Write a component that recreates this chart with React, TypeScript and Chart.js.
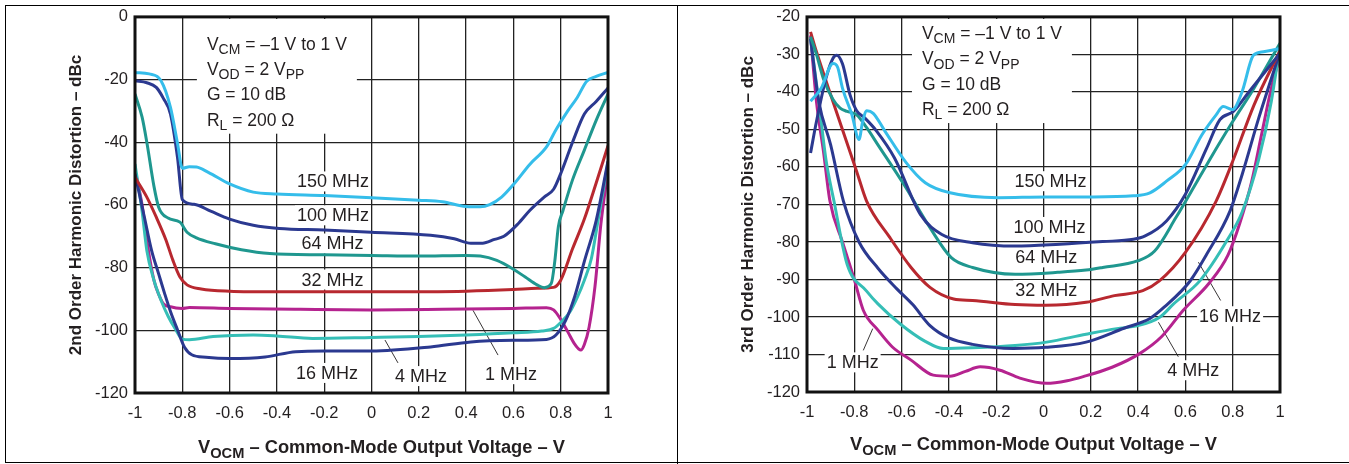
import React, { useEffect, useRef } from "react";
import { Chart, registerables } from "chart.js";
Chart.register(...registerables);

// ---------- colours ----------
const C150 = "#35BDEA";
const C100 = "#2B3990";
const C64 = "#1F978F";
const C32 = "#B8282F";
const C16 = "#2B3990";
const C4 = "#35BEB6";
const C1 = "#B5238F";
const INK = "#231F20";
const FONT = "'Liberation Sans', Arial, Helvetica, sans-serif";

// ---------- 2nd order harmonic distortion (left) ----------
const h2_150_x = [-1, -0.94, -0.89, -0.85, -0.82, -0.8, -0.77, -0.74, -0.69, -0.6, -0.5, -0.4, -0.2, 0, 0.2, 0.3, 0.4, 0.46, 0.5, 0.55, 0.6, 0.67, 0.74, 0.78, 0.83, 0.87, 0.91, 0.95, 1];
const h2_150_y = [-17.7, -18.2, -20.4, -28.9, -40.5, -48.3, -47.8, -47.9, -49.6, -53.3, -55.9, -56.5, -57, -57.7, -58.5, -59, -60.5, -60.6, -59.9, -57.5, -53.5, -47, -41.5, -36, -30, -25.7, -20.5, -19, -17.7];

const h2_100_x = [-1, -0.95, -0.91, -0.88, -0.85, -0.82, -0.8, -0.75, -0.68, -0.6, -0.5, -0.39, -0.2, 0, 0.25, 0.35, 0.42, 0.47, 0.52, 0.56, 0.62, 0.67, 0.73, 0.77, 0.8, 0.85, 0.9, 0.95, 1];
const h2_100_y = [-20.4, -21, -22.5, -26, -31, -45, -58.3, -59.8, -62, -64.5, -66.5, -67.5, -68, -68.7, -69.7, -70.8, -72.2, -72.2, -71, -70, -66, -61.7, -57.5, -55, -50, -40, -31, -27, -22.7];

const h2_64_x = [-1, -0.97, -0.95, -0.92, -0.9, -0.86, -0.81, -0.78, -0.74, -0.66, -0.55, -0.43, -0.2, 0, 0.2, 0.4, 0.46, 0.53, 0.6, 0.65, 0.7, 0.73, 0.76, 0.775, 0.79, 0.81, 0.85, 0.9, 0.95, 1];
const h2_64_y = [-24.6, -32, -40, -54, -60.7, -64.2, -65.5, -68.7, -70.5, -72.4, -74.3, -75.5, -75.9, -76.1, -76.3, -76.1, -76.3, -77.7, -80.5, -83, -85.5, -86.4, -85.1, -78, -67, -61.7, -52, -42.5, -33, -24.6];

const h2_32_x = [-1, -0.95, -0.91, -0.87, -0.84, -0.81, -0.78, -0.72, -0.6, -0.4, 0, 0.4, 0.6, 0.7, 0.77, 0.8, 0.85, 0.9, 0.95, 1];
const h2_32_y = [-51.2, -57.5, -63.9, -71, -77.6, -83, -85.5, -86.8, -87.5, -87.7, -87.7, -87.5, -87, -86.6, -86.3, -84, -74, -64.5, -53, -41.1];

const h2_16_x = [-1, -0.96, -0.93, -0.9, -0.875, -0.85, -0.82, -0.79, -0.76, -0.7, -0.6, -0.45, -0.32, -0.2, 0, 0.25, 0.42, 0.6, 0.74, 0.78, 0.82, 0.86, 0.9, 0.95, 1];
const h2_16_y = [-50.1, -64, -74.5, -82, -88.2, -94, -99.9, -105.5, -107.8, -108.6, -109, -108.5, -106.8, -106.6, -106.6, -105.3, -103.7, -103.2, -102.9, -101.5, -97, -89, -78, -65, -46];

const h2_4_x = [-1, -0.97, -0.95, -0.92, -0.89, -0.86, -0.83, -0.8, -0.77, -0.67, -0.5, -0.4, -0.25, 0, 0.2, 0.4, 0.6, 0.72, 0.77, 0.8, 0.84, 0.87, 0.9, 0.93, 0.96, 1];
const h2_4_y = [-46.9, -62, -74.5, -84, -90.4, -95.5, -99.5, -102.8, -103, -102, -101.5, -101.8, -102.6, -102.3, -102, -101.5, -100.8, -100.2, -99.4, -97.5, -94, -89.5, -84, -77, -64, -46.4];

const h2_1_x = [-1, -0.97, -0.95, -0.92, -0.9, -0.88, -0.85, -0.8, -0.77, -0.6, -0.3, 0, 0.3, 0.6, 0.74, 0.77, 0.8, 0.83, 0.86, 0.885, 0.9, 0.92, 0.945, 0.97, 1];
const h2_1_y = [-49, -60, -71.3, -84, -88.5, -91.5, -92.5, -93, -92.7, -93, -93.3, -93.5, -93.3, -93, -92.8, -93.5, -96.5, -100.5, -104.5, -106.3, -104.5, -99, -86, -66, -49];

// ---------- 3rd order harmonic distortion (right) ----------
const h3_150_x = [-0.985, -0.94, -0.89, -0.87, -0.85, -0.81, -0.78, -0.765, -0.747, -0.72, -0.67, -0.58, -0.5, -0.395, -0.19, 0.01, 0.21, 0.38, 0.45, 0.52, 0.6, 0.67, 0.73, 0.76, 0.8, 0.84, 0.888, 0.93, 0.97, 1];
const h3_150_y = [-42.5, -39, -32.4, -33.5, -39, -46.1, -52.7, -48, -45, -45.7, -50.5, -58.9, -64.2, -66.9, -68.2, -68, -68, -67.7, -66.9, -63.8, -59.4, -51.4, -46.1, -43.9, -44.7, -39.9, -30.2, -29.3, -28.8, -28.4];

const h3_100_x = [-0.985, -0.96, -0.92, -0.89, -0.874, -0.85, -0.818, -0.79, -0.755, -0.705, -0.63, -0.52, -0.43, -0.3, -0.12, 0.07, 0.25, 0.38, 0.43, 0.52, 0.6, 0.69, 0.746, 0.803, 0.87, 1];
const h3_100_y = [-56.3, -47.9, -36.4, -31, -30.2, -32.5, -40.8, -45, -47, -50.5, -57.6, -72.7, -78, -80.2, -81.1, -80.6, -79.9, -79.3, -78.4, -74.4, -67.3, -55, -47.4, -45.2, -39.9, -29.7];

const h3_64_x = [-0.985, -0.96, -0.931, -0.89, -0.86, -0.83, -0.79, -0.747, -0.7, -0.59, -0.48, -0.39, -0.3, -0.12, 0.06, 0.18, 0.25, 0.4, 0.47, 0.56, 0.65, 0.74, 0.8, 0.89, 1];
const h3_64_y = [-25.3, -30, -36.4, -42, -44.3, -45.2, -46.1, -49.6, -54.1, -64.7, -76.2, -84.2, -86.8, -88.6, -88.1, -87.5, -86.8, -85, -82.4, -73.5, -63.8, -54.1, -47.9, -39, -27];

const h3_32_x = [-0.985, -0.96, -0.89, -0.79, -0.748, -0.65, -0.56, -0.48, -0.38, -0.3, -0.12, 0.01, 0.18, 0.3, 0.42, 0.49, 0.6, 0.73, 0.8, 0.89, 1];
const h3_32_y = [-24, -29.3, -42.6, -61.2, -69.1, -78.8, -86.8, -92.1, -95.2, -95.6, -96.7, -96.9, -96.1, -94.3, -93, -90.4, -82.8, -69.1, -58.5, -43.5, -29];

const h3_16_x = [-0.985, -0.95, -0.9, -0.846, -0.78, -0.7, -0.62, -0.553, -0.48, -0.4, -0.3, -0.128, 0.01, 0.18, 0.34, 0.45, 0.51, 0.62, 0.69, 0.789, 0.84, 0.91, 1];
const h3_16_y = [-25.8, -42.6, -54.1, -69.1, -80, -87, -92.5, -96.7, -102.3, -105.6, -107.3, -108.4, -108.1, -106.7, -103, -100.4, -97.4, -90.4, -83.3, -71.7, -62, -47, -29.3];

const h3_4_x = [-0.985, -0.95, -0.92, -0.886, -0.83, -0.748, -0.7, -0.607, -0.5, -0.424, -0.3, -0.12, 0.013, 0.18, 0.31, 0.4, 0.493, 0.55, 0.662, 0.775, 0.84, 0.91, 0.963, 1];
const h3_4_y = [-25.8, -42.6, -58, -69.1, -86, -93.1, -96.5, -101.8, -106.5, -108.4, -108.2, -107.6, -106.7, -104.6, -103.1, -102.3, -100, -96.5, -90.3, -79.7, -72, -58, -42.6, -27.5];

const h3_1_x = [-0.985, -0.96, -0.93, -0.903, -0.85, -0.8, -0.762, -0.7, -0.639, -0.56, -0.466, -0.395, -0.33, -0.268, -0.184, -0.1, 0.013, 0.1, 0.168, 0.29, 0.408, 0.5, 0.591, 0.7, 0.78, 0.83, 0.88, 0.92, 0.96, 1];
const h3_1_y = [-24.9, -42.6, -56, -69.1, -80, -90, -98.2, -103.5, -108, -111.5, -115.5, -115.8, -114.5, -113.3, -114.2, -116.3, -117.7, -117, -115.9, -113.4, -109.7, -105.2, -98.2, -91, -83.5, -75, -64, -52, -40, -30.2];

// ---------- axes ----------
const xMin = -1, xMax = 1, xStep = 0.2;
const h2YMin = -120, h2YMax = 0, h2YStep = 20;
const h3YMin = -120, h3YMax = -20, h3YStep = 10;

type Seg = { t: string; sub?: boolean };
type Label = { text: string; x: number; y: number };
type Leader = { x1: number; y1: number; x2: number; y2: number };

const conditionLines: Seg[][] = [
  [{ t: "V" }, { t: "CM", sub: true }, { t: " = –1 V to 1 V" }],
  [{ t: "V" }, { t: "OD", sub: true }, { t: " = 2 V" }, { t: "PP", sub: true }],
  [{ t: "G = 10 dB" }],
  [{ t: "R" }, { t: "L", sub: true }, { t: " = 200 Ω" }],
];
const xTitle: Seg[] = [{ t: "V" }, { t: "OCM", sub: true }, { t: " – Common-Mode Output Voltage – V" }];

const h2Labels: Label[] = [
  { text: "150 MHz", x: -0.163, y: -52.5 },
  { text: "100 MHz", x: -0.163, y: -63.3 },
  { text: "64 MHz", x: -0.165, y: -72.3 },
  { text: "32 MHz", x: -0.165, y: -83.8 },
  { text: "16 MHz", x: -0.188, y: -113.6 },
  { text: "4 MHz", x: 0.209, y: -114.6 },
  { text: "1 MHz", x: 0.59, y: -114 },
];
const h2Leaders: Leader[] = [
  { x1: 0.057, y1: -103.1, x2: 0.112, y2: -110.4 },
  { x1: 0.429, y1: -93.6, x2: 0.535, y2: -107.9 },
];
const h3Labels: Label[] = [
  { text: "150 MHz", x: 0.03, y: -63.8 },
  { text: "100 MHz", x: 0.025, y: -76 },
  { text: "64 MHz", x: 0.012, y: -84.1 },
  { text: "32 MHz", x: 0.012, y: -92.8 },
  { text: "16 MHz", x: 0.789, y: -99.8 },
  { text: "4 MHz", x: 0.633, y: -114.2 },
  { text: "1 MHz", x: -0.807, y: -112.1 },
];
const h3Leaders: Leader[] = [
  { x1: 0.655, y1: -85.4, x2: 0.749, y2: -95.6 },
  { x1: 0.486, y1: -101.4, x2: 0.57, y2: -110.6 },
  { x1: -0.722, y1: -103.1, x2: -0.762, y2: -108.9 },
];

function zip(xs: number[], ys: number[]) {
  return xs.map((x, i) => ({ x, y: ys[i] }));
}

function fnt(size: number, bold = false) {
  return `${bold ? "bold " : ""}${size}px ${FONT}`;
}

function segsWidth(ctx: CanvasRenderingContext2D, segs: Seg[], size: number, bold = false) {
  let w = 0;
  for (const s of segs) {
    ctx.font = fnt(s.sub ? size * 0.8 : size, bold);
    w += ctx.measureText(s.t).width;
  }
  return w;
}

function drawSegs(ctx: CanvasRenderingContext2D, segs: Seg[], x: number, y: number, size: number, bold = false, center = false) {
  let cx = center ? x - segsWidth(ctx, segs, size, bold) / 2 : x;
  ctx.textBaseline = "middle";
  ctx.textAlign = "left";
  for (const s of segs) {
    ctx.font = fnt(s.sub ? size * 0.8 : size, bold);
    ctx.fillText(s.t, cx, s.sub ? y + size * 0.3 : y);
    cx += ctx.measureText(s.t).width;
  }
}

type PanelProps = {
  left: number;
  width: number;
  padTop: number;
  padRight: number;
  yWidth: number;
  xHeight: number;
  yMin: number;
  yMax: number;
  yStep: number;
  yTitle: string;
  titleShift: number;
  titleDrop: number;
  series: { label: string; color: string; data: { x: number; y: number }[] }[];
  labels: Label[];
  leaders: Leader[];
  condX: number;
  condY: number;
};

function Panel(p: PanelProps) {
  const ref = useRef<HTMLCanvasElement>(null);
  useEffect(() => {
    const canvas = ref.current!;
    const annot = {
      id: "annot",
      beforeDatasetsDraw(chart: any) {
        const ctx: CanvasRenderingContext2D = chart.ctx;
        const xs = chart.scales.x, ys = chart.scales.y;
        ctx.save();
        const tx = xs.getPixelForValue(p.condX);
        const ty = ys.getPixelForValue(p.condY);
        const lh = 25.3;
        let maxW = 0;
        for (const l of conditionLines) maxW = Math.max(maxW, segsWidth(ctx, l, 17.5));
        ctx.fillStyle = "#fff";
        ctx.fillRect(tx - 10, chart.chartArea.top + 2, maxW + 20, ty + lh * (conditionLines.length - 1) + 13 - chart.chartArea.top - 2);
        ctx.fillStyle = INK;
        conditionLines.forEach((l, i) => drawSegs(ctx, l, tx, ty + i * lh, 17.5));
        ctx.strokeStyle = INK;
        ctx.lineWidth = 0.9;
        for (const ld of p.leaders) {
          ctx.beginPath();
          ctx.moveTo(xs.getPixelForValue(ld.x1), ys.getPixelForValue(ld.y1));
          ctx.lineTo(xs.getPixelForValue(ld.x2), ys.getPixelForValue(ld.y2));
          ctx.stroke();
        }
        ctx.font = fnt(18);
        ctx.textAlign = "center";
        ctx.textBaseline = "middle";
        for (const lb of p.labels) {
          const px = xs.getPixelForValue(lb.x), py = ys.getPixelForValue(lb.y);
          const w = ctx.measureText(lb.text).width;
          ctx.fillStyle = "#fff";
          ctx.fillRect(px - w / 2 - 2, py - 10, w + 4, 20);
          ctx.fillStyle = INK;
          ctx.fillText(lb.text, px, py + 1);
        }
        ctx.restore();
      },
      afterDatasetsDraw(chart: any) {
        const ctx: CanvasRenderingContext2D = chart.ctx;
        const a = chart.chartArea;
        ctx.save();
        ctx.strokeStyle = "#111";
        ctx.lineWidth = 3;
        ctx.strokeRect(a.left, a.top, a.right - a.left, a.bottom - a.top);
        ctx.restore();
      },
      afterDraw(chart: any) {
        const ctx: CanvasRenderingContext2D = chart.ctx;
        const a = chart.chartArea;
        ctx.save();
        ctx.fillStyle = INK;
        drawSegs(ctx, xTitle, (a.left + a.right) / 2 + p.titleShift, a.bottom + p.titleDrop, 18.3, true, true);
        ctx.translate(a.left - 59, (a.top + a.bottom) / 2);
        ctx.rotate(-Math.PI / 2);
        drawSegs(ctx, [{ t: p.yTitle }], 0, 0, 17, true, true);
        ctx.restore();
      },
    };
    const chart = new Chart(canvas, {
      type: "line",
      data: {
        datasets: p.series.map((s) => ({
          label: s.label,
          data: s.data,
          borderColor: s.color,
          backgroundColor: s.color,
          borderWidth: 3,
          pointRadius: 0,
          fill: false,
          cubicInterpolationMode: "monotone" as const,
        })),
      },
      options: {
        animation: false,
        responsive: false,
        devicePixelRatio: 1,
        parsing: false as any,
        layout: { padding: { top: p.padTop, right: p.padRight, left: 0, bottom: 0 } },
        plugins: { legend: { display: false }, tooltip: { enabled: false } },
        scales: {
          x: {
            type: "linear",
            min: xMin,
            max: xMax,
            afterFit: (s: any) => { s.height = p.xHeight; },
            border: { display: false },
            grid: { color: "#222", lineWidth: 1.3, drawTicks: false },
            ticks: {
              stepSize: xStep,
              padding: 11,
              color: INK,
              font: { family: FONT, size: 16.5 },
              maxRotation: 0,
              callback: (v: any) => {
                const n = Math.round(Number(v) * 10) / 10;
                return n === 0 ? "0" : String(n);
              },
            },
          },
          y: {
            type: "linear",
            min: p.yMin,
            max: p.yMax,
            afterFit: (s: any) => { s.width = p.yWidth; },
            border: { display: false },
            grid: { color: "#222", lineWidth: 1.3, drawTicks: false },
            ticks: {
              stepSize: p.yStep,
              padding: 7,
              color: INK,
              font: { family: FONT, size: 16.5 },
              callback: (v: any) => String(Math.round(Number(v))),
            },
          },
        },
      },
      plugins: [annot],
    } as any);
    return () => chart.destroy();
  }, []);
  return (
    <canvas
      ref={ref}
      width={p.width}
      height={464}
      style={{ position: "absolute", left: p.left, top: 0, width: p.width, height: 464 }}
    />
  );
}

export default function App() {
  const h2Series = [
    { label: "150 MHz", color: C150, data: zip(h2_150_x, h2_150_y) },
    { label: "100 MHz", color: C100, data: zip(h2_100_x, h2_100_y) },
    { label: "64 MHz", color: C64, data: zip(h2_64_x, h2_64_y) },
    { label: "32 MHz", color: C32, data: zip(h2_32_x, h2_32_y) },
    { label: "16 MHz", color: C16, data: zip(h2_16_x, h2_16_y) },
    { label: "4 MHz", color: C4, data: zip(h2_4_x, h2_4_y) },
    { label: "1 MHz", color: C1, data: zip(h2_1_x, h2_1_y) },
  ];
  const h3Series = [
    { label: "150 MHz", color: C150, data: zip(h3_150_x, h3_150_y) },
    { label: "100 MHz", color: C100, data: zip(h3_100_x, h3_100_y) },
    { label: "64 MHz", color: C64, data: zip(h3_64_x, h3_64_y) },
    { label: "32 MHz", color: C32, data: zip(h3_32_x, h3_32_y) },
    { label: "16 MHz", color: C16, data: zip(h3_16_x, h3_16_y) },
    { label: "4 MHz", color: C4, data: zip(h3_4_x, h3_4_y) },
    { label: "1 MHz", color: C1, data: zip(h3_1_x, h3_1_y) },
  ];
  return (
    <div style={{ position: "absolute", left: 0, top: 0, width: 1349, height: 464, background: "#fff", overflow: "hidden" }}>
      <div style={{ position: "absolute", left: 5, top: 5, width: 1344, height: 0, borderTop: "1px solid #000" }} />
      <div style={{ position: "absolute", left: 5, top: 5, width: 0, height: 457, borderLeft: "1px solid #000" }} />
      <div style={{ position: "absolute", left: 5, top: 462, width: 1344, height: 0, borderTop: "1px solid #000" }} />
      <div style={{ position: "absolute", left: 677, top: 5, width: 0, height: 459, borderLeft: "1px solid #000" }} />
      <Panel
        left={0}
        width={677}
        padTop={16}
        padRight={677 - 608}
        yWidth={135}
        xHeight={71}
        yMin={h2YMin}
        yMax={h2YMax}
        yStep={h2YStep}
        yTitle="2nd Order Harmonic Distortion – dBc"
        titleShift={10}
        titleDrop={55}
        series={h2Series}
        labels={h2Labels}
        leaders={h2Leaders}
        condX={-0.696}
        condY={-8.9}
      />
      <Panel
        left={678}
        width={671}
        padTop={15}
        padRight={671 - 602}
        yWidth={129}
        xHeight={72}
        yMin={h3YMin}
        yMax={h3YMax}
        yStep={h3YStep}
        yTitle="3rd Order Harmonic Distortion – dBc"
        titleShift={-10}
        titleDrop={53}
        series={h3Series}
        labels={h3Labels}
        leaders={h3Leaders}
        condX={-0.514}
        condY={-24.6}
      />
    </div>
  );
}
